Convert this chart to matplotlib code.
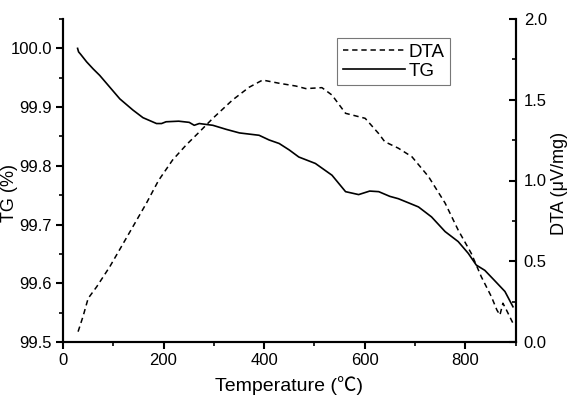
"""TG / DTA thermal analysis curve."""

import matplotlib
matplotlib.use("Agg")
import matplotlib.pyplot as plt
from matplotlib.ticker import MultipleLocator

plt.rcParams["font.family"] = ["Liberation Sans", "Noto Sans CJK SC", "DejaVu Sans"]

# TG curve (temperature in C, mass in %)
tg_temp = [29, 31, 35, 47, 60, 73, 93, 113, 139, 159, 186, 196, 205, 230, 251, 261, 271,
           298, 325, 351, 390, 410, 430, 450, 469, 502, 535, 562, 588, 610, 628, 650,
           667, 690, 707, 733, 760, 786, 806, 822, 839, 858, 879, 895]
tg_mass = [100.0, 99.994, 99.99, 99.977, 99.965, 99.954, 99.934, 99.914, 99.895, 99.882,
           99.872, 99.872, 99.875, 99.876, 99.874, 99.869, 99.872, 99.869, 99.862, 99.856,
           99.852, 99.844, 99.838, 99.827, 99.815, 99.804, 99.784, 99.756, 99.751, 99.757,
           99.756, 99.748, 99.744, 99.736, 99.730, 99.713, 99.688, 99.671, 99.651, 99.631,
           99.622, 99.605, 99.586, 99.560]

# DTA curve (temperature in C, signal in uV/mg)
dta_temp = [30, 40, 50, 67, 93, 116, 139, 166, 190, 218, 245, 271, 298, 337, 370, 397,
            430, 463, 483, 515, 535, 562, 601, 628, 640, 667, 694, 727, 760, 786, 812,
            832, 852, 863, 869, 875, 882, 895]
dta_signal = [0.064, 0.16, 0.27, 0.342, 0.466, 0.59, 0.714, 0.86, 1.0, 1.127, 1.22, 1.30,
              1.385, 1.498, 1.577, 1.622, 1.602, 1.585, 1.569, 1.575, 1.529, 1.416, 1.385,
              1.29, 1.24, 1.2, 1.147, 1.024, 0.86, 0.693, 0.549, 0.404, 0.281, 0.198,
              0.167, 0.24, 0.198, 0.116]

fig = plt.figure(figsize=(5.69, 3.99), dpi=100)
ax = fig.add_axes([63 / 569, 1 - 342 / 399, (515.5 - 63) / 569, (342 - 19) / 399])
ax2 = ax.twinx()

l_dta, = ax2.plot(dta_temp, dta_signal, color="black", linestyle=(0, (3.5, 2.5)),
                  linewidth=1.1, label="DTA")
l_tg, = ax.plot(tg_temp, tg_mass, color="black", linewidth=1.2, label="TG")

ax.set_xlim(0, 900)
ax.set_ylim(99.5, 100.05)
ax2.set_ylim(0, 2.0)

ax.xaxis.set_major_locator(MultipleLocator(200))
ax.xaxis.set_minor_locator(MultipleLocator(100))
ax.yaxis.set_major_locator(MultipleLocator(0.1))
ax.yaxis.set_minor_locator(MultipleLocator(0.05))
ax2.yaxis.set_major_locator(MultipleLocator(0.5))
ax2.yaxis.set_minor_locator(MultipleLocator(0.25))
ax.yaxis.set_major_formatter(plt.FormatStrFormatter("%.1f"))
ax2.yaxis.set_major_formatter(plt.FormatStrFormatter("%.1f"))

for a in (ax, ax2):
    a.spines["top"].set_visible(False)
    for s in a.spines.values():
        s.set_linewidth(1.5)

ax.tick_params(which="major", direction="out", length=5, width=1.5, labelsize=12,
               top=False, pad=3)
ax.tick_params(which="minor", direction="out", length=3, width=1.2, top=False)
ax2.tick_params(which="major", direction="in", length=5, width=1.5, labelsize=12, pad=6)
ax2.tick_params(which="minor", direction="in", length=3, width=1.2)

ax.set_xlabel("Temperature (℃)", fontsize=14, labelpad=6)
fig.text(10 / 569, 1 - 193 / 399, "TG (%)", rotation=90, ha="center", va="center",
         fontsize=13)
fig.text(560 / 569, 1 - 183 / 399, "DTA (μV/mg)", rotation=90, ha="center", va="center",
         fontsize=13)

leg = ax.legend([l_dta, l_tg], ["DTA", "TG"], loc="upper left",
                bbox_to_anchor=((337 - 63) / 452.5, (342 - 38) / 323),
                fontsize=13.5, frameon=True, fancybox=False, handlelength=3.3,
                handletextpad=0.2, borderpad=0.3, labelspacing=0.1, borderaxespad=0)
leg.get_frame().set_edgecolor("#555555")
leg.get_frame().set_linewidth(0.8)

fig.savefig("out.png", dpi=100)
